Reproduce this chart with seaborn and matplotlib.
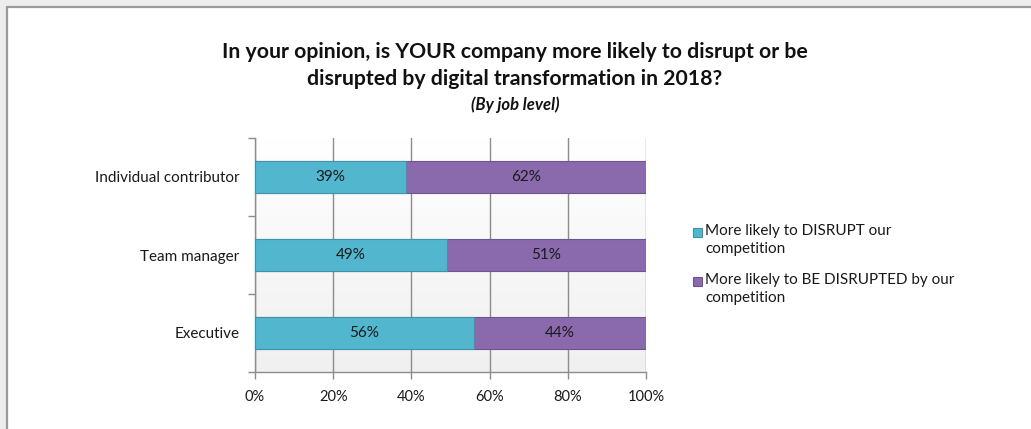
import numpy as np
import pandas as pd
import matplotlib
matplotlib.use("Agg")
import matplotlib.pyplot as plt
from matplotlib.patches import Rectangle
from matplotlib.ticker import FixedLocator, PercentFormatter
import seaborn as sns

# Survey responses by job level (percent of respondents)
job_levels = ["Individual contributor", "Team manager", "Executive"]
disrupt_pct = [39, 49, 56]
disrupted_pct = [62, 51, 44]
series_names = ["More likely to DISRUPT our\ncompetition",
                "More likely to BE DISRUPTED by our\ncompetition"]
x_ticks = [0, 20, 40, 60, 80, 100]

CYAN = "#52B6CE"
PURPLE = "#8A6AAC"
GRID = "#8C8C8C"
TEXT = "#1A1A1A"
FONT = "Lato"

sns.set_theme(style="white")
plt.rcParams["font.family"] = [FONT, "DejaVu Sans"]

df = pd.DataFrame({"level": job_levels, "disrupt": disrupt_pct, "disrupted": disrupted_pct})
total = df["disrupt"] + df["disrupted"]
df["disrupt_share"] = df["disrupt"] / total * 100
df["full"] = 100.0

W, H = 1031, 429
fig = plt.figure(figsize=(W / 100, H / 100), dpi=100)
fig.patch.set_facecolor("#EDEDED")
# white chart panel with a grey frame
fig.add_artist(Rectangle((7 / W, -0.05), 1.1, 1 - 7 / H + 0.05, transform=fig.transFigure,
                         facecolor="white", edgecolor="#9A9A9A", linewidth=1.6, zorder=-10))

ax = fig.add_axes([255 / W, 1 - 372 / H, (646 - 255) / W, (372 - 138) / H])
ax.set_zorder(2)

# soft vertical gradient in the plot area (white at top, light grey at bottom)
grad = np.linspace(0.0, 1.0, 256).reshape(-1, 1)
ax.imshow(grad, extent=(0, 1, 0, 1), transform=ax.transAxes, aspect="auto",
          cmap=matplotlib.colors.LinearSegmentedColormap.from_list("bg", ["#FFFFFF", "#F0F0F0"]),
          vmin=0, vmax=1, zorder=0, origin="upper")

sns.barplot(data=df, y="level", x="full", orient="h", color=PURPLE, width=0.4,
            saturation=1, edgecolor="#6E5590", linewidth=0.8, ax=ax, zorder=3)
sns.barplot(data=df, y="level", x="disrupt_share", orient="h", color=CYAN, width=0.4,
            saturation=1, edgecolor="#3E95AA", linewidth=0.8, ax=ax, zorder=4)

# labels centred in each segment
for i, row in df.iterrows():
    ax.text(row["disrupt_share"] / 2, i, f"{row['disrupt']}%", ha="center", va="center",
            fontsize=11, color=TEXT, zorder=6)
    ax.text((row["disrupt_share"] + 100) / 2, i, f"{row['disrupted']}%", ha="center",
            va="center", fontsize=11, color=TEXT, zorder=6)

ax.set_xlim(0, 100)
ax.set_ylim(2.5, -0.5)
ax.set_xlabel("")
ax.set_ylabel("")
ax.xaxis.set_major_locator(FixedLocator(x_ticks))
ax.xaxis.set_major_formatter(PercentFormatter(100, decimals=0))
ax.grid(axis="x", color=GRID, linewidth=1.0, zorder=1)
ax.set_axisbelow(True)
for s in ["top", "right"]:
    ax.spines[s].set_visible(False)
for s in ["left", "bottom"]:
    ax.spines[s].set_color(GRID)
    ax.spines[s].set_linewidth(1.0)

ax.tick_params(axis="x", which="major", direction="out", length=5, width=1, color=GRID,
               labelsize=10.5, labelcolor=TEXT, pad=8, bottom=True)
ax.tick_params(axis="y", which="major", length=0, labelsize=11, labelcolor=TEXT, pad=11)
ax.yaxis.set_minor_locator(FixedLocator([-0.5, 0.5, 1.5, 2.5]))
ax.tick_params(axis="y", which="minor", direction="out", length=5, width=1, color=GRID, left=True)

# legend: colour key aligned with the first line of each entry
legend_rows = [(CYAN, "#3E95AA", 232), (PURPLE, "#6E5590", 281)]
for (fc, ec, y), name in zip(legend_rows, series_names):
    fig.add_artist(Rectangle((693 / W, 1 - (y + 5) / H), 9 / W, 9 / H, transform=fig.transFigure,
                             facecolor=fc, edgecolor=ec, linewidth=0.8))
    fig.text(705 / W, 1 - (y - 8) / H, name, ha="left", va="top", fontsize=11,
             color=TEXT, linespacing=1.35)

fig.text(515 / W, 1 - 52 / H, "In your opinion, is YOUR company more likely to disrupt or be",
         ha="center", va="center", fontsize=15.3, fontweight="bold", color="#111111")
fig.text(515 / W, 1 - 79 / H, "disrupted by digital transformation in 2018?",
         ha="center", va="center", fontsize=15.3, fontweight="bold", color="#111111")
fig.text(515 / W, 1 - 105 / H, "(By job level)", ha="center", va="center", fontsize=12,
         fontweight="bold", fontstyle="italic", color="#111111")

fig.savefig("out.png", dpi=100, facecolor=fig.get_facecolor())
